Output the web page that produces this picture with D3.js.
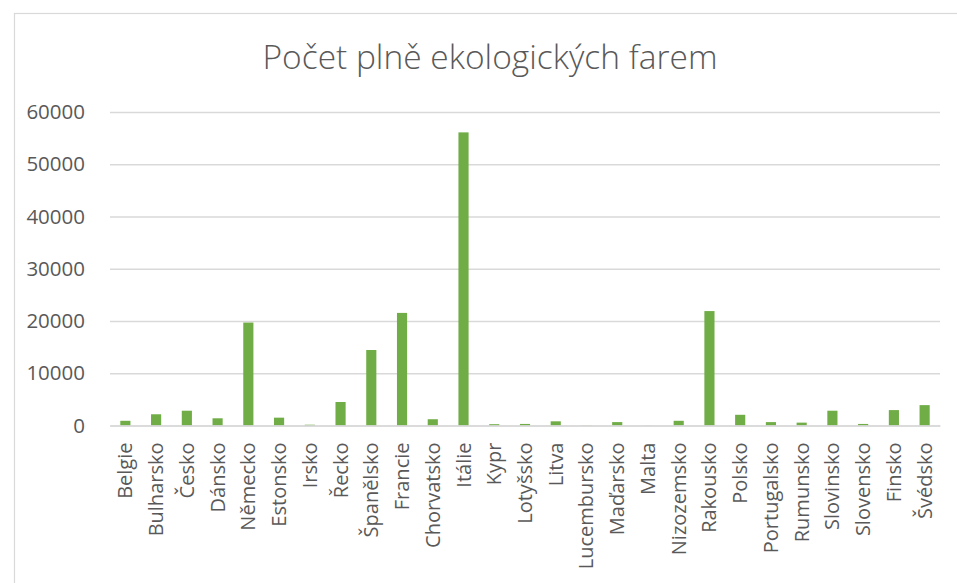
<!DOCTYPE html>
<html><head><meta charset="utf-8">
<script src="https://cdn.jsdelivr.net/npm/d3@7"></script>
<style>body{margin:0;background:#fff}</style>
</head><body>
<svg id="c" width="957" height="583"></svg>
<script>
const categories = ["Belgie","Bulharsko","Česko","Dánsko","Německo","Estonsko","Irsko","Řecko","Španělsko","Francie","Chorvatsko","Itálie","Kypr","Lotyšsko","Litva","Lucembursko","Maďarsko","Malta","Nizozemsko","Rakousko","Polsko","Portugalsko","Rumunsko","Slovinsko","Slovensko","Finsko","Švédsko"];
const values = [900,2150,2830,1380,19700,1500,150,4500,14450,21550,1200,56100,250,300,800,40,650,20,900,21900,2050,650,550,2830,300,2950,3900];
const yTicks = [0,10000,20000,30000,40000,50000,60000];
const title = "Počet plně ekologických farem";

const svg = d3.select("#c");
const font = "'Open Sans', sans-serif";
const textColor = "#595959";
const m = {left:110, right:940, top:112, bottom:425.5};

svg.append("rect").attr("x",14.5).attr("y",13.5).attr("width",960).attr("height",600)
  .attr("fill","#fff").attr("stroke","#d9d9d9").attr("stroke-width",1.2);

const x = d3.scaleBand().domain(categories).range([m.left,m.right]).paddingInner(0.67).paddingOuter(0.335);
const y = d3.scaleLinear().domain([0,60000]).range([m.bottom,m.top]);

const yAxis = svg.append("g").attr("transform",`translate(${m.left},0)`)
  .call(d3.axisLeft(y).tickValues(yTicks).tickSize(-(m.right-m.left)).tickFormat(d3.format("d")));
yAxis.select(".domain").remove();
yAxis.selectAll("line").attr("stroke","#d9d9d9").attr("stroke-width",1.3);
yAxis.selectAll("text").attr("x",-25).attr("fill",textColor).style("font-family",font).style("font-size","20.5px");

svg.append("g").selectAll("rect").data(values).join("rect")
  .attr("x",(d,i)=>x(categories[i]))
  .attr("width",x.bandwidth())
  .attr("y",d=>y(d))
  .attr("height",d=>y(0)-y(d))
  .attr("fill","#70ad47");

const xAxis = svg.append("g").attr("transform",`translate(0,${m.bottom})`)
  .call(d3.axisBottom(x).tickSize(0));
xAxis.select(".domain").attr("stroke","#d9d9d9").attr("stroke-width",1.5);
xAxis.selectAll("text")
  .attr("transform","rotate(-90)")
  .attr("x",-17).attr("y",0).attr("dy","0.35em")
  .attr("text-anchor","end")
  .attr("fill",textColor).style("font-family",font).style("font-size","20px");

svg.append("text").attr("x",490).attr("y",69).attr("text-anchor","middle")
  .attr("fill",textColor).style("font-family",font).style("font-weight",300).style("font-size","33.5px")
  .text(title);
</script>
</body></html>
